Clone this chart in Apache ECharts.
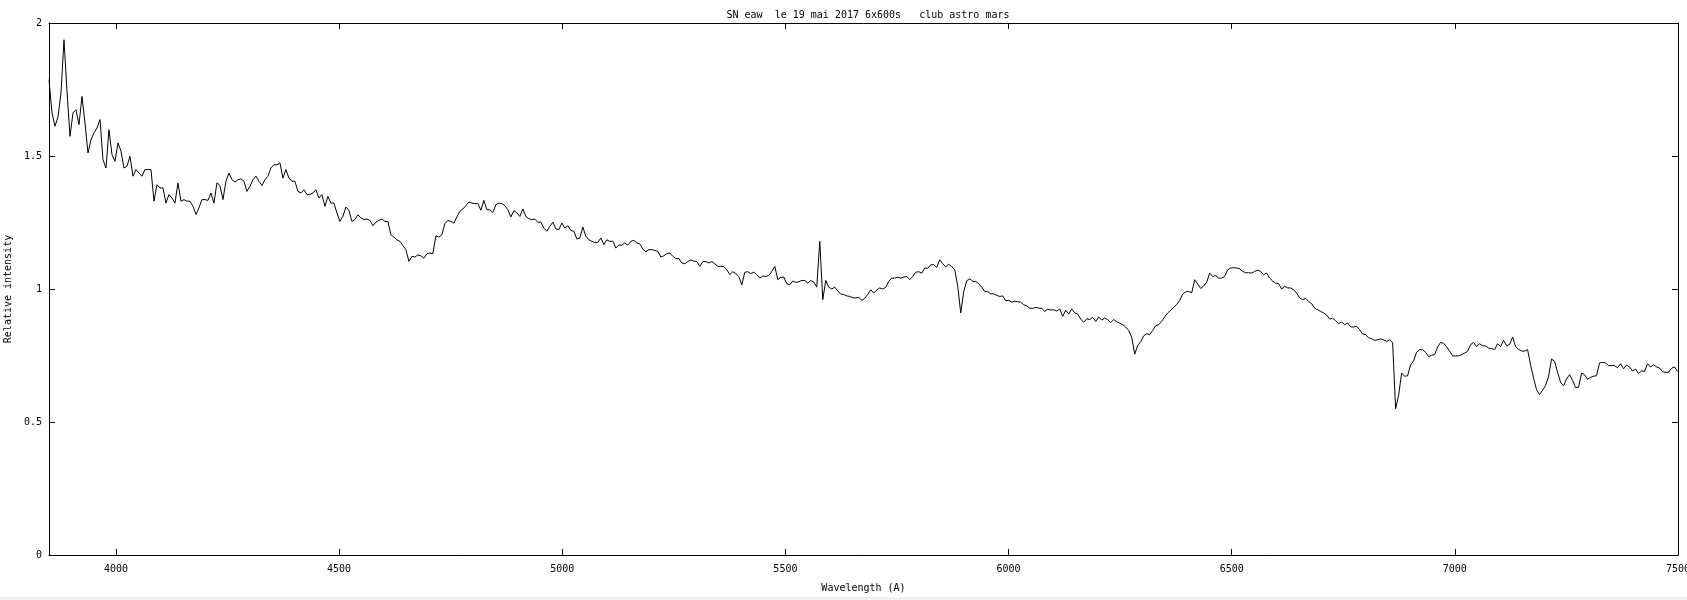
<!DOCTYPE html>
<html><head><meta charset="utf-8">
<script src="https://cdn.jsdelivr.net/npm/echarts@6/dist/echarts.min.js"></script>
<style>html,body{margin:0;padding:0;background:#fff;overflow:hidden}#c{width:1687px;height:600px}</style>
</head><body><div id="c"></div>
<script>
const titleText = 'SN eaw  le 19 mai 2017 6x600s   club astro mars';
const xAxisName = 'Wavelength (A)';
const yAxisName = 'Relative intensity';
// spectral sampling grid (start wavelength and step, in Angstrom)
const wavelengthStart = 3850;
const wavelengthStep = 6.72;
const xTickValues = [4000, 4500, 5000, 5500, 6000, 6500, 7000, 7500];
const yTickValues = [0, 0.5, 1, 1.5, 2];
const intensity = [
1.787,1.662,1.612,1.647,1.737,1.937,1.743,1.574,1.662,1.674,
1.618,1.724,1.624,1.511,1.561,1.587,1.605,1.637,1.486,1.455,
1.599,1.505,1.480,1.549,1.518,1.455,1.461,1.499,1.424,1.449,
1.436,1.424,1.449,1.449,1.449,1.330,1.392,1.380,1.380,1.323,
1.355,1.342,1.323,1.399,1.330,1.336,1.330,1.330,1.311,1.280,
1.305,1.336,1.336,1.333,1.361,1.323,1.399,1.389,1.336,1.405,
1.436,1.411,1.402,1.411,1.414,1.405,1.367,1.386,1.411,1.424,
1.405,1.389,1.411,1.424,1.455,1.467,1.467,1.474,1.417,1.449,
1.417,1.405,1.405,1.367,1.361,1.373,1.355,1.355,1.361,1.373,
1.342,1.355,1.311,1.348,
1.323,1.323,1.286,1.254,1.273,1.308,1.296,1.254,1.261,1.279,
1.267,1.261,1.263,1.258,1.238,1.251,1.258,1.263,1.254,1.254,
1.204,1.195,1.185,1.179,1.163,1.148,1.104,1.123,1.120,1.128,
1.125,1.116,1.133,1.135,1.133,1.200,1.195,1.204,1.246,1.258,
1.254,1.248,1.271,1.292,1.301,1.313,1.327,1.323,1.321,1.321,
1.296,1.333,1.298,1.298,1.288,1.317,1.323,1.321,1.313,1.298,
1.271,1.294,1.286,1.273,1.301,1.273,1.264,1.261,1.263,1.251,
1.251,1.229,1.217,1.236,1.251,1.226,1.223,1.248,1.229,1.238,
1.220,1.217,1.188,1.192,1.233,1.198,1.185,1.179,1.175,1.175,
1.192,1.167,
1.185,1.179,1.180,1.154,1.165,1.165,1.173,1.165,1.179,1.183,
1.173,1.170,1.150,1.140,1.148,1.148,1.145,1.141,1.120,1.125,
1.133,1.135,1.123,1.114,1.115,1.098,1.095,1.103,1.109,1.105,
1.103,1.085,1.103,1.103,1.098,1.103,1.095,1.085,1.085,1.084,
1.073,1.054,1.065,1.058,1.047,1.016,1.063,1.065,1.058,1.063,
1.054,1.041,1.049,1.047,1.051,1.066,1.085,1.035,1.044,1.045,
1.020,1.016,1.030,1.025,1.027,1.032,1.032,1.022,1.032,1.026,
1.007,1.179,0.960,1.032,1.007,1.000,1.007,0.992,0.981,0.979,
0.974,0.972,0.967,0.966,0.969,0.957,0.965,0.980,0.997,0.985,
0.996,
1.004,1.000,1.006,1.029,1.041,1.041,1.044,1.041,1.045,1.047,
1.035,1.047,1.063,1.065,1.060,1.079,1.078,1.091,1.091,1.081,
1.110,1.095,1.083,1.093,1.084,1.073,1.010,0.910,0.991,1.031,
1.038,1.029,1.028,1.020,1.007,0.991,0.990,0.982,0.982,0.976,
0.972,0.974,0.956,0.957,0.951,0.954,0.952,0.951,0.941,0.936,
0.928,0.927,0.931,0.928,0.927,0.916,0.924,0.921,0.922,0.917,
0.925,0.897,0.920,0.906,0.925,0.910,0.906,0.887,0.875,0.888,
0.885,0.893,0.878,0.895,0.883,0.891,0.885,0.874,0.885,0.877,
0.872,0.866,0.857,0.844,0.819,0.755,0.788,0.802,0.824,0.832,
0.828,0.844,
0.862,0.866,0.878,0.895,0.910,0.920,0.932,0.941,0.957,0.981,
0.989,0.991,0.985,1.035,1.019,1.002,1.011,1.025,1.060,1.047,
1.051,1.041,1.041,1.047,1.072,1.079,1.080,1.079,1.076,1.066,
1.061,1.061,1.060,1.066,1.071,1.066,1.054,1.060,1.041,1.030,
1.022,1.020,1.000,1.010,1.004,1.004,0.997,0.985,0.966,0.960,
0.965,0.953,0.945,0.928,0.922,0.916,0.910,0.902,0.887,0.890,
0.881,0.870,0.876,0.866,0.872,0.858,0.857,0.860,0.847,0.831,
0.828,0.817,0.813,0.807,0.809,0.812,0.809,0.803,0.809,0.799,
0.550,0.600,
0.684,0.672,0.674,0.715,0.730,0.762,0.772,0.772,0.762,0.746,
0.751,0.753,0.782,0.799,0.796,0.783,0.766,0.749,0.748,0.749,
0.753,0.759,0.766,0.791,0.799,0.784,0.794,0.787,0.786,0.778,
0.776,0.772,0.794,0.784,0.807,0.787,0.791,0.819,0.784,0.773,
0.767,0.766,0.772,0.715,0.665,0.621,0.603,0.619,0.637,0.672,
0.737,0.728,0.687,0.649,0.636,0.662,0.678,0.657,0.629,0.631,
0.684,0.678,0.661,0.668,0.672,0.674,0.722,0.724,0.722,0.712,
0.712,0.712,0.704,0.719,0.700,0.714,0.707,0.692,0.699,0.682,
0.692,0.690,0.719,0.707,0.715,0.707,0.703,0.689,0.687,0.687,
0.702,0.707,0.690
];
const wavelengths = intensity.map((_, i) => +(wavelengthStart + i * wavelengthStep).toFixed(2));
const seriesData = intensity.map((v, i) => [wavelengths[i], v]);

const FONT = 'DejaVu Sans Mono';
const BLACK = '#000';
const lineStyle = { color: BLACK, width: 1 };
const xMin = wavelengthStart, xMax = xTickValues[xTickValues.length - 1];
const yMin = yTickValues[0], yMax = yTickValues[yTickValues.length - 1];

const chart = echarts.init(document.getElementById('c'), null, { renderer: 'canvas' });
chart.setOption({
  animation: false,
  backgroundColor: '#fff',
  title: {
    text: titleText,
    left: 863, top: 5,
    textAlign: 'center',
    textStyle: { fontFamily: FONT, fontSize: 10, fontWeight: 'normal', color: BLACK }
  },
  graphic: [{ type: 'rect', shape: { x: 0, y: 597, width: 1687, height: 3 }, style: { fill: '#f0f0f0' }, silent: true }],
  grid: { left: 49, right: 9, top: 23, bottom: 45, containLabel: false, outerBoundsMode: 'none' },
  xAxis: [{
    type: 'value', position: 'bottom', min: xMin, max: xMax,
    name: xAxisName, nameLocation: 'middle', nameGap: 28,
    nameTextStyle: { fontFamily: FONT, fontSize: 10, color: BLACK },
    axisLine: { show: true, onZero: false, lineStyle },
    axisTick: { show: true, inside: true, length: 6, lineStyle, customValues: xTickValues },
    axisLabel: { show: true, margin: 9, fontFamily: FONT, fontSize: 10, color: BLACK, customValues: xTickValues,
                 showMaxLabel: true, hideOverlap: false, formatter: v => String(v) },
    splitLine: { show: false }
  }, {
    type: 'value', position: 'top', min: xMin, max: xMax,
    axisLine: { show: true, onZero: false, lineStyle },
    axisTick: { show: true, inside: true, length: 6, lineStyle, customValues: xTickValues },
    axisLabel: { show: false },
    splitLine: { show: false }
  }],
  yAxis: [{
    type: 'value', position: 'left', min: yMin, max: yMax, interval: 0.5,
    name: yAxisName, nameLocation: 'middle', nameGap: 36, nameRotate: 90,
    nameTextStyle: { fontFamily: FONT, fontSize: 10, color: BLACK },
    axisLine: { show: true, onZero: false, lineStyle },
    axisTick: { show: true, inside: true, length: 6, lineStyle },
    axisLabel: { show: true, margin: 7, fontFamily: FONT, fontSize: 10, color: BLACK, formatter: v => String(v) },
    splitLine: { show: false }
  }, {
    type: 'value', position: 'right', min: yMin, max: yMax, interval: 0.5,
    axisLine: { show: true, onZero: false, lineStyle },
    axisTick: { show: true, inside: true, length: 6, lineStyle },
    axisLabel: { show: false },
    splitLine: { show: false }
  }],
  series: [{
    type: 'line', xAxisIndex: 0, yAxisIndex: 0,
    data: seriesData, showSymbol: false, symbol: 'none',
    lineStyle: { color: BLACK, width: 1 },
    itemStyle: { color: BLACK },
    silent: true, clip: true
  }]
});
</script>
</body></html>
